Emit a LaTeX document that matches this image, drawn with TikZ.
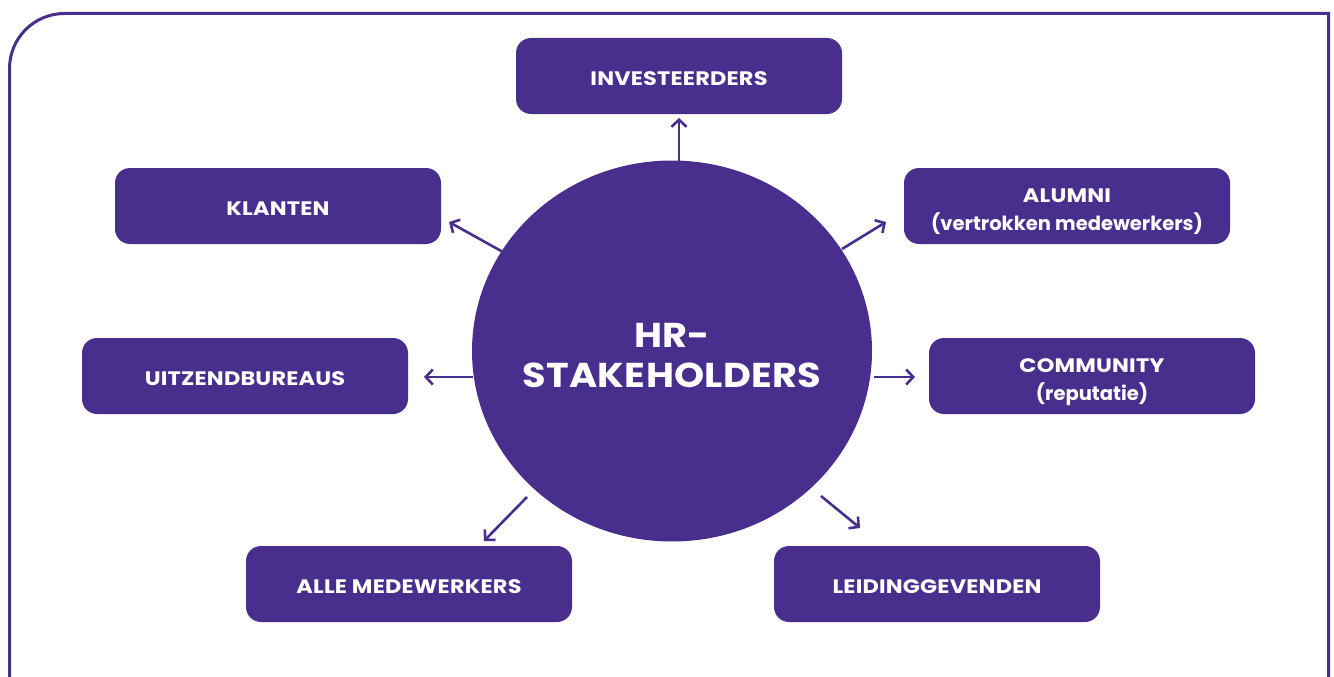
\documentclass[tikz,border=0pt]{standalone}
\usepackage{fontspec}
\setmainfont{Poppins}
\usetikzlibrary{arrows.meta,shapes.geometric}
\definecolor{hrpurple}{RGB}{72,47,142}
\newcommand{\wcaps}[1]{{\addfontfeatures{FakeStretch=1.15,LetterSpace=1}#1}}
\tikzset{
  box/.style={fill=hrpurple, rounded corners=15pt, minimum width=326pt, minimum height=76pt, inner sep=0pt},
  lbl/.style={text=white, align=center, inner sep=0pt,
    font=\fontsize{19.5}{28}\selectfont\bfseries},
  arr/.style={draw=hrpurple, line width=2.6pt, -{Straight Barb[length=7pt,width=15pt,line width=2.6pt]}}
}
\begin{document}
\begin{tikzpicture}[x=1pt,y=-1pt]
\useasboundingbox (0,0) rectangle (1334,677);
% frame
\draw[hrpurple, line width=3pt] (9.5,677) -- (9.5,68.5) arc[start angle=180, end angle=270, radius=55] -- (1328.5,13.5) -- (1328.5,677);
% centre
\node[ellipse, fill=hrpurple, minimum width=400pt, minimum height=381pt, inner sep=0pt] (c) at (672,351) {};
\node[text=white, align=center, font=\fontsize{34.5}{40}\selectfont\bfseries\addfontfeatures{FakeStretch=1.11,LetterSpace=1}] (ct) at (672,356) {HR-\\STAKEHOLDERS};
% boxes
\node[box] (inv) at (679,76) {};
\node[box] (kla) at (278,206) {};
\node[box] (alu) at (1067,206) {};
\node[box] (uit) at (245,376) {};
\node[box] (com) at (1092,376) {};
\node[box] (all) at (409,584) {};
\node[box] (lei) at (937,584) {};
\node[lbl] (invt) at ([yshift=-3pt]inv.center) {\wcaps{INVESTEERDERS}};
\node[lbl] (klat) at ([yshift=-3pt]kla.center) {\wcaps{KLANTEN}};
\node[lbl] (alut) at ([yshift=-6pt]alu.center) {\wcaps{ALUMNI}\\(vertrokken medewerkers)};
\node[lbl] (uitt) at ([yshift=-3pt]uit.center) {\wcaps{UITZENDBUREAUS}};
\node[lbl] (comt) at ([yshift=-6pt]com.center) {\wcaps{COMMUNITY}\\(reputatie)};
\node[lbl] (allt) at ([yshift=-3pt]all.center) {\wcaps{ALLE MEDEWERKERS}};
\node[lbl] (leit) at ([yshift=-3pt]lei.center) {\wcaps{LEIDINGGEVENDEN}};
% arrow endpoints
\coordinate (a1s) at (679,161); \coordinate (a1e) at (679,118);
\coordinate (a2s) at (503,252); \coordinate (a2e) at (449,222);
\coordinate (a3s) at (842,249); \coordinate (a3e) at (886,222);
\coordinate (a4s) at (473,377); \coordinate (a4e) at (424,377);
\coordinate (a5s) at (874,377); \coordinate (a5e) at (915,377);
\coordinate (a6s) at (527,497); \coordinate (a6e) at (484,541);
\coordinate (a7s) at (821,496); \coordinate (a7e) at (860,528);
\draw[arr] (a1s) -- (a1e);
\draw[arr] (a2s) -- (a2e);
\draw[arr] (a3s) -- (a3e);
\draw[arr] (a4s) -- (a4e);
\draw[arr] (a5s) -- (a5e);
\draw[arr] (a6s) -- (a6e);
\draw[arr] (a7s) -- (a7e);
\end{tikzpicture}
\end{document}
